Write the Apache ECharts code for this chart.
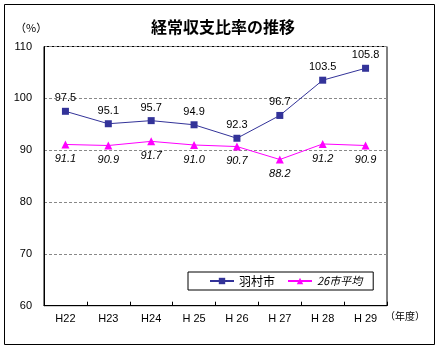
<!DOCTYPE html>
<html><head><meta charset="utf-8">
<script src="https://cdn.jsdelivr.net/npm/echarts@6/dist/echarts.min.js"></script>
<style>html,body{margin:0;padding:0;background:#fff}#c{width:440px;height:350px}</style>
</head><body><div id="c"></div>
<script>
const categories = ['H22','H23','H24','H 25','H 26','H 27','H 28','H 29'];
const hamura = [97.5, 95.1, 95.7, 94.9, 92.3, 96.7, 103.5, 105.8];
const avg26 = [91.1, 90.9, 91.7, 91.0, 90.7, 88.2, 91.2, 90.9];
const seriesNames = ['羽村市', '26市平均'];
const titleText = '経常収支比率の推移';

const font = '"Liberation Sans", Arial, "Noto Sans CJK JP", sans-serif';
const chart = echarts.init(document.getElementById('c'), null, {renderer: 'canvas'});
chart.setOption({
  animation: false,
  backgroundColor: '#fff',
  textStyle: {fontFamily: font},
  title: {
    text: titleText, left: 218, top: 14, textAlign: 'center',
    textStyle: {fontSize: 16, fontWeight: 'bold', color: '#000', fontFamily: '"Noto Sans CJK JP", sans-serif'}
  },
  grid: {left: 44, top: 46.5, right: 53, bottom: 44.3, show: true, borderColor: '#000', borderWidth: 1},
  legend: {
    orient: 'horizontal',
    left: 188, top: 272,
    padding: [3, 11, 3, 21],
    itemGap: 12,
    itemWidth: 24, itemHeight: 8,
    borderColor: '#000', borderWidth: 1,
    backgroundColor: '#fff',
    data: [
      {name: seriesNames[0], textStyle: {fontSize: 12, color: '#000', fontFamily: '"Noto Sans CJK JP", sans-serif'}},
      {name: seriesNames[1], textStyle: {fontSize: 11, fontStyle: 'italic', color: '#000', fontFamily: '"Noto Sans CJK JP", sans-serif'}}
    ]
  },
  xAxis: {
    type: 'category', data: categories, boundaryGap: true,
    axisLine: {lineStyle: {color: '#000', width: 1}},
    axisTick: {show: true, inside: true, length: 4, lineStyle: {color: '#000'}},
    axisLabel: {color: '#000', fontSize: 11, margin: 8, fontFamily: font},
    splitLine: {show: false}
  },
  yAxis: {
    type: 'value', min: 60, max: 110, interval: 10,
    axisLine: {show: true, lineStyle: {color: '#000'}},
    axisTick: {show: false},
    axisLabel: {color: '#000', fontSize: 11, margin: 12, fontFamily: font},
    splitLine: {show: true, lineStyle: {color: '#888', type: [3, 2], width: 1}}
  },
  graphic: [
    {type: 'rect', shape: {x: 4.5, y: 4.5, width: 430, height: 340}, style: {fill: 'none', stroke: '#000', lineWidth: 1}, silent: true, z: 100},
    {type: 'text', left: 15, top: 22, style: {text: '（%）', fontSize: 11, fill: '#000', fontFamily: '"Noto Sans CJK JP", sans-serif'}},
    {type: 'text', left: 385, top: 311, style: {text: '（年度）', fontSize: 10, fill: '#000', fontFamily: '"Noto Sans CJK JP", sans-serif'}}
  ],
  series: [
    {
      name: seriesNames[0], type: 'line', data: hamura,
      symbol: 'rect', symbolSize: 7,
      itemStyle: {color: '#333399'},
      lineStyle: {color: '#333399', width: 1},
      label: {show: true, position: 'top', distance: 4, fontSize: 11, color: '#000', fontFamily: font, formatter: p => p.value.toFixed(1)}
    },
    {
      name: seriesNames[1], type: 'line', data: avg26,
      symbol: 'triangle', symbolSize: 8,
      itemStyle: {color: '#FF00FF'},
      lineStyle: {color: '#FF00FF', width: 1},
      label: {show: true, position: 'bottom', distance: 5, fontSize: 11, fontStyle: 'italic', color: '#000', fontFamily: font, formatter: p => p.value.toFixed(1)}
    }
  ]
});
</script></body></html>
